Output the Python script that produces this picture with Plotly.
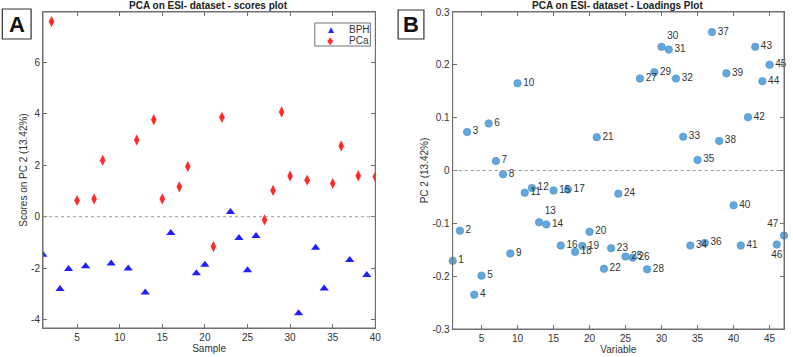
import plotly.graph_objects as go

# ---- Panel A data: scores on PC2 per sample ----
bph_samples = [1, 3, 4, 6, 9, 11, 13, 16, 19, 20, 23, 24, 25, 26, 31, 33, 34, 37, 39]
bph_scores = [-1.48, -2.81, -2.03, -1.92, -1.82, -2.01, -2.94, -0.63, -2.19, -1.86,
              0.18, -0.83, -2.08, -0.75, -3.75, -1.20, -2.79, -1.68, -2.26]
pca_samples = [2, 5, 7, 8, 12, 14, 15, 17, 18, 21, 22, 27, 28, 29, 30, 32, 35, 36, 38, 40]
pca_scores = [7.58, 0.63, 0.69, 2.19, 2.98, 3.77, 0.69, 1.16, 1.95, -1.16,
              3.86, -0.12, 1.02, 4.07, 1.58, 1.42, 1.29, 2.75, 1.59, 1.55]

# ---- Panel B data: loadings on PC2 per variable ----
variables = list(range(1, 48))
loadings = [-0.171, -0.114, 0.073, -0.235, -0.199, 0.089, 0.018, -0.007, -0.157, 0.165,
            -0.042, -0.033, -0.098, -0.102, -0.038, -0.142, -0.036, -0.154, -0.143, -0.116,
            0.063, -0.186, -0.147, -0.044, -0.163, -0.165, 0.174, -0.187, 0.186, 0.234,
            0.229, 0.174, 0.064, -0.142, 0.020, -0.137, 0.262, 0.056, 0.184, -0.066,
            -0.142, 0.101, 0.234, 0.169, 0.200, -0.140, -0.123]
label_pos = {13: "top right", 30: "top right", 47: "top left", 46: "bottom center"}

W, H = 793, 357
ML, MR, MT, MB = 43, 3, 12, 28
PW, PH = W - ML - MR, H - MT - MB
def px(x): return (x - ML) / PW
def py(y): return 1 - (y - MT) / PH

axis_color = "#707070"
text_color = "#333333"
font_family = "Liberation Sans, Arial, sans-serif"
bph_color = "#1f1fff"
pca_color = "#ff2a2a"

fig = go.Figure()

fig.add_trace(go.Scatter(
    x=bph_samples, y=bph_scores, mode="markers", name="BPH",
    marker=dict(symbol="triangle-up", size=8, color=bph_color, line=dict(width=0)),
    xaxis="x", yaxis="y", showlegend=False))
fig.add_trace(go.Scatter(
    x=pca_samples, y=pca_scores, mode="markers", name="PCa",
    marker=dict(symbol="diamond-tall", size=8, color=pca_color, line=dict(width=0)),
    xaxis="x", yaxis="y", showlegend=False))

fig.add_trace(go.Scatter(
    x=variables, y=loadings, mode="markers+text",
    text=[str(v) for v in variables],
    textposition=[label_pos.get(v, "middle right") for v in variables],
    textfont=dict(size=10, color=text_color, family=font_family),
    marker=dict(symbol="circle", size=7.5, color="#62a8dc", line=dict(width=0.6, color="#4a90c8")),
    showlegend=False, xaxis="x2", yaxis="y2", cliponaxis=False))

def ax(**kw):
    d = dict(showline=True, linecolor=axis_color, linewidth=1, mirror="allticks",
             ticks="inside", ticklen=4, tickcolor=axis_color, tickwidth=1, showgrid=False,
             zeroline=False, tickfont=dict(size=10, color=text_color, family=font_family))
    d.update(kw)
    return d

fig.update_layout(
    width=W, height=H,
    margin=dict(l=ML, r=MR, t=MT, b=MB),
    paper_bgcolor="white", plot_bgcolor="white",
    font=dict(family=font_family, color=text_color, size=10),
    xaxis=ax(domain=[px(43), px(378)], range=[1, 40], tickvals=[5, 10, 15, 20, 25, 30, 35, 40],
             title=dict(text="Sample", font=dict(size=10), standoff=2), anchor="y"),
    yaxis=ax(domain=[py(328), py(12)], range=[-4.32, 7.95], tickvals=[-4, -2, 0, 2, 4, 6],
             ticktext=["-4", "-2", "0", "2", "4", "6"],
             title=dict(text="Scores on PC 2 (13.42%)", font=dict(size=10), standoff=1),
             anchor="x"),
    xaxis2=ax(domain=[px(456), px(790)], range=[1, 47], tickvals=[5, 10, 15, 20, 25, 30, 35, 40, 45],
              title=dict(text="Variable", font=dict(size=10), standoff=2), anchor="y2"),
    yaxis2=ax(domain=[py(329), py(12)], range=[-0.3, 0.3],
              tickvals=[-0.3, -0.2, -0.1, 0, 0.1, 0.2, 0.3],
              ticktext=["-0.3", "-0.2", "-0.1", "0", "0.1", "0.2", "0.3"],
              title=dict(text="PC 2 (13.42%)", font=dict(size=10), standoff=1),
              anchor="x2"),
    showlegend=False,
)

# plot frames
for xr, yr in [("x domain", "y domain"), ("x2 domain", "y2 domain")]:
    fig.add_shape(type="rect", xref=xr, yref=yr, x0=0, x1=1, y0=0, y1=1,
                  line=dict(color=axis_color, width=1), fillcolor="rgba(0,0,0,0)", layer="above")

# zero reference lines
fig.add_shape(type="line", xref="x domain", yref="y", x0=0, x1=1, y0=0, y1=0,
              line=dict(color="#999999", width=1, dash="dot"))
fig.add_shape(type="line", xref="x2 domain", yref="y2", x0=0, x1=1, y0=0, y1=0,
              line=dict(color="#999999", width=1, dash="dot"))

# legend (box + symbol glyphs + labels)
fig.add_shape(type="rect", xref="paper", yref="paper", x0=px(317), x1=px(373), y0=py(46), y1=py(23),
              line=dict(color=axis_color, width=1), fillcolor="white")
for name, glyph, col, yy in [("BPH", "▲", bph_color, 29), ("PCa", "♦", pca_color, 40.5)]:
    fig.add_annotation(text=glyph, xref="paper", yref="paper", x=px(333), y=py(yy),
                       xanchor="center", yanchor="middle", showarrow=False,
                       font=dict(size=10 if glyph == "▲" else 13, color=col))
    fig.add_annotation(text=name, xref="paper", yref="paper", x=px(349), y=py(yy),
                       xanchor="left", yanchor="middle", showarrow=False,
                       font=dict(size=10, color=text_color))

# titles
fig.add_annotation(text="<b>PCA on ESI- dataset - scores plot</b>", xref="paper", yref="paper",
                   x=px(210), y=py(5.5), xanchor="center", yanchor="middle", showarrow=False,
                   font=dict(size=10, color="#222222"))
fig.add_annotation(text="<b>PCA on ESI- dataset - Loadings Plot</b>", xref="paper", yref="paper",
                   x=px(622), y=py(5.5), xanchor="center", yanchor="middle", showarrow=False,
                   font=dict(size=10, color="#222222"))

# panel letters
fig.add_shape(type="rect", xref="paper", yref="paper", x0=px(2), x1=px(31), y0=py(39), y1=py(9),
              line=dict(color="#333333", width=1.2), fillcolor="white")
fig.add_shape(type="rect", xref="paper", yref="paper", x0=px(401), x1=px(427), y0=py(39), y1=py(10),
              line=dict(color="#333333", width=1.2), fillcolor="white")
fig.add_annotation(text="<b>A</b>", xref="paper", yref="paper", x=px(16.5), y=py(24.5),
                   xanchor="center", yanchor="middle", showarrow=False,
                   font=dict(size=22, color="#111111", family="Liberation Sans, Arial"))
fig.add_annotation(text="<b>B</b>", xref="paper", yref="paper", x=px(414), y=py(24.5),
                   xanchor="center", yanchor="middle", showarrow=False,
                   font=dict(size=22, color="#111111", family="Liberation Sans, Arial"))

fig.write_html("out.html", config={"displayModeBar": False},
               post_script="document.body.style.margin='0';document.body.style.overflow='hidden';")
